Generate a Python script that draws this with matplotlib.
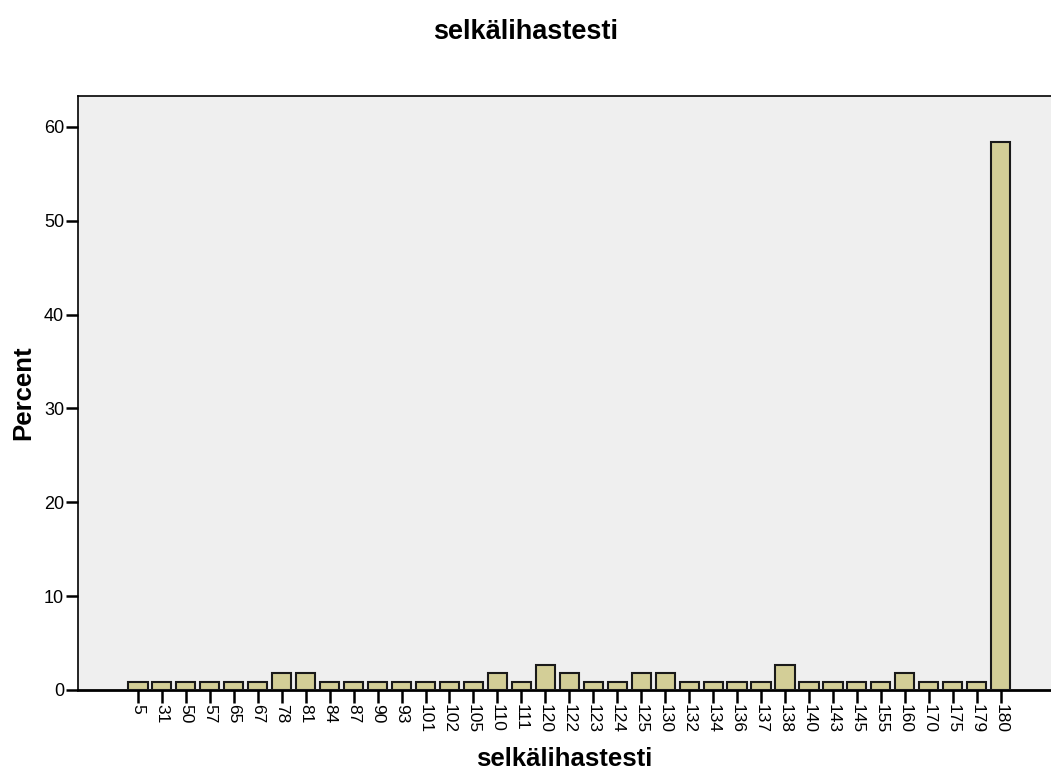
import numpy as np
import matplotlib.pyplot as plt

plt.rcParams['font.family'] = ['Liberation Sans', 'DejaVu Sans']

# data: counts per category, shown as percent of total (n=113)
categories = ["5", "31", "50", "57", "65", "67", "78", "81", "84", "87", "90", "93",
              "101", "102", "105", "110", "111", "120", "122", "123", "124", "125",
              "130", "132", "134", "136", "137", "138", "140", "143", "145", "155",
              "160", "170", "175", "179", "180"]
counts = [1, 1, 1, 1, 1, 1, 2, 2, 1, 1, 1, 1,
          1, 1, 1, 2, 1, 3, 2, 1, 1, 2,
          2, 1, 1, 1, 1, 3, 1, 1, 1, 1,
          2, 1, 1, 1, 66]
percent = np.array(counts) / sum(counts) * 100

fig = plt.figure(figsize=(10.51, 7.73), dpi=100)
ax = fig.add_axes([78 / 1051, 1 - 690 / 773, 1 - 78 / 1051, (690 - 96) / 773])
ax.set_facecolor("#efefef")

x = np.arange(len(categories))
ax.bar(x, percent, width=0.8, color="#d3ce97", edgecolor="#1a1a1a", linewidth=1.5, zorder=3)

ax.set_xlim(-2.5, 38.1)
ax.set_ylim(0, 63.3)
ax.set_xticks(x)
ax.set_xticklabels(categories, rotation=270, fontsize=12.5)
ax.set_yticks([0, 10, 20, 30, 40, 50, 60])
ax.tick_params(axis="x", direction="out", length=9, width=1.8, pad=1)
ax.tick_params(axis="y", direction="out", length=9, width=1.8, labelsize=13, pad=1)

for side in ["top", "left"]:
    ax.spines[side].set_linewidth(1.2)
ax.spines["bottom"].set_linewidth(2)
ax.spines["right"].set_visible(False)

fig.suptitle("selkälihastesti", fontsize=19.5, fontweight="bold", y=0.975)
ax.set_xlabel("selkälihastesti", fontsize=18.5, fontweight="bold", labelpad=10)
ax.set_ylabel("Percent", fontsize=18.5, fontweight="bold", labelpad=6)

plt.savefig("out.png", dpi=100)
